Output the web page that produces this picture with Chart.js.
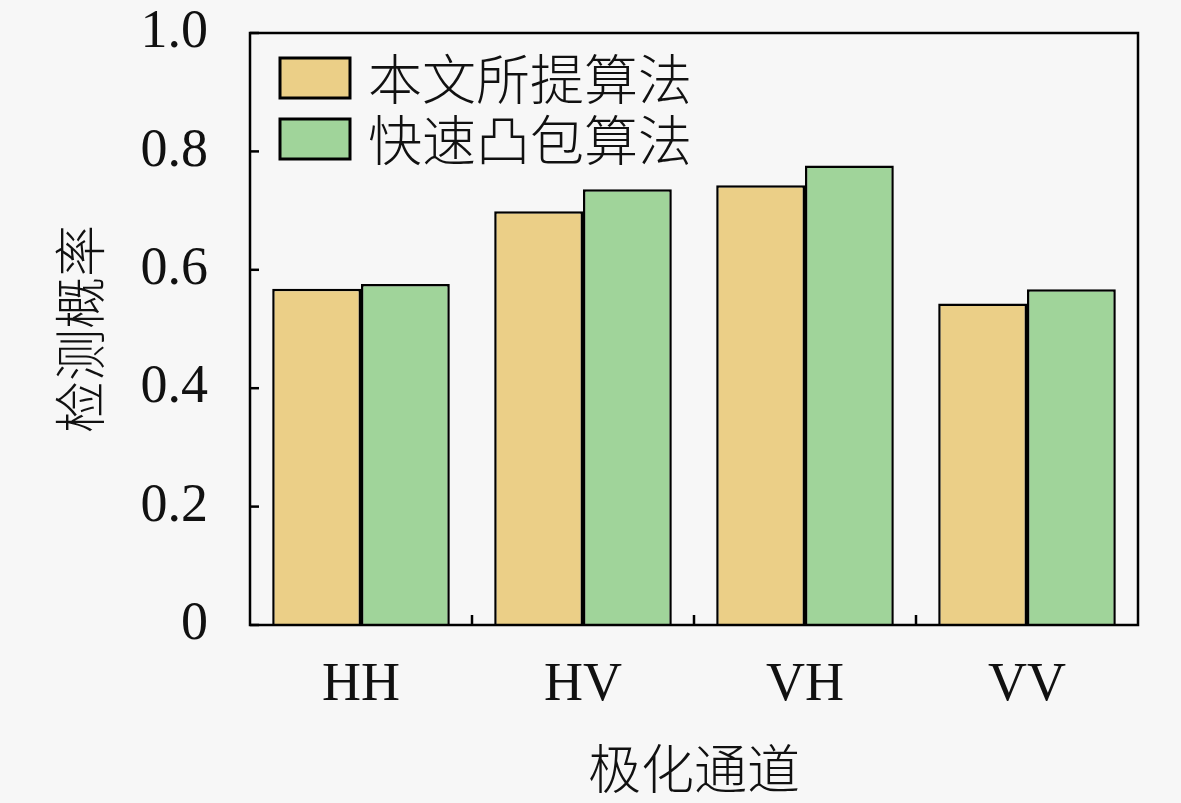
<!DOCTYPE html>
<html>
<head>
<meta charset="utf-8">
<script src="https://cdn.jsdelivr.net/npm/chart.js@4/dist/chart.umd.min.js"></script>
<style>
  html, body { margin: 0; padding: 0; background: #f7f7f7; }
  #wrap { width: 1181px; height: 803px; }
</style>
</head>
<body>
<div id="wrap"><canvas id="c" width="1181" height="803"></canvas></div>
<script>
const categories = ['HH', 'HV', 'VH', 'VV'];
const seriesNames = ['本文所提算法', '快速凸包算法'];
const proposedValues = [0.568, 0.699, 0.743, 0.543];
const convexHullValues = [0.576, 0.736, 0.776, 0.567];
const yTicks = [0, 0.2, 0.4, 0.6, 0.8, 1.0];
const xTitle = '极化通道';
const yTitle = '检测概率';

const latinFont = "'Liberation Serif', 'DejaVu Serif', serif";
const cjkFont = "'Noto Sans CJK SC', sans-serif";

const framePlugin = {
  id: 'frame',
  afterDatasetsDraw(chart) {
    const ctx = chart.ctx, a = chart.chartArea;
    const xs = chart.scales.x, ys = chart.scales.y;
    ctx.save();
    ctx.strokeStyle = '#000';
    ctx.lineWidth = 2.5;
    ctx.strokeRect(a.left, a.top, a.right - a.left, a.bottom - a.top);
    yTicks.forEach(v => {
      const y = ys.getPixelForValue(v);
      ctx.beginPath(); ctx.moveTo(a.left, y); ctx.lineTo(a.left + 9, y); ctx.stroke();
    });
    for (let i = 1; i < categories.length; i++) {
      const x = (xs.getPixelForValue(i - 1) + xs.getPixelForValue(i)) / 2;
      ctx.beginPath(); ctx.moveTo(x, a.bottom); ctx.lineTo(x, a.bottom - 10); ctx.stroke();
    }
    ctx.restore();
  },
  afterDraw(chart) {
    const ctx = chart.ctx, a = chart.chartArea;
    ctx.save();
    const bx = a.left + 30, by0 = a.top + 25, bw = 70, bh = 40, gap = 21;
    chart.data.datasets.forEach((ds, i) => {
      const by = by0 + i * (bh + gap);
      ctx.fillStyle = ds.backgroundColor;
      ctx.fillRect(bx, by, bw, bh);
      ctx.strokeStyle = '#000';
      ctx.lineWidth = 3;
      ctx.strokeRect(bx, by, bw, bh);
      ctx.fillStyle = '#111';
      ctx.font = '300 54px ' + cjkFont;
      ctx.textBaseline = 'middle';
      ctx.textAlign = 'left';
      ctx.fillText(ds.label, bx + bw + 18, by + bh / 2 + 1);
    });
    ctx.restore();
  }
};

const bgPlugin = {
  id: 'bg',
  beforeDraw(chart) {
    const ctx = chart.ctx;
    ctx.save();
    ctx.fillStyle = '#f7f7f7';
    ctx.fillRect(0, 0, chart.width, chart.height);
    ctx.restore();
  }
};

new Chart(document.getElementById('c'), {
  type: 'bar',
  data: {
    labels: categories,
    datasets: [
      { label: seriesNames[0], data: proposedValues, backgroundColor: '#ebcf87', borderColor: '#000', borderWidth: 2.5 },
      { label: seriesNames[1], data: convexHullValues, backgroundColor: '#a0d49a', borderColor: '#000', borderWidth: 2.5 }
    ]
  },
  options: {
    responsive: false,
    animation: false,
    devicePixelRatio: 1,
    layout: { padding: { left: 40, right: 43, top: 33, bottom: 0 } },
    datasets: { bar: { categoryPercentage: 0.8, barPercentage: 1.0 } },
    plugins: { legend: { display: false }, tooltip: { enabled: false } },
    scales: {
      x: {
        grid: { display: false, drawTicks: false },
        border: { display: false },
        ticks: { color: '#111', font: { family: latinFont, size: 54 }, padding: 28 },
        title: { display: true, text: xTitle, color: '#111', font: { family: cjkFont, size: 53, weight: 300 }, padding: { top: 0, bottom: 2 } },
        afterFit(s) { s.height = 178; s.paddingLeft = 0; s.paddingRight = 0; }
      },
      y: {
        min: 0, max: 1,
        afterBuildTicks(s) { s.ticks = yTicks.map(v => ({ value: v })); },
        grid: { display: false, drawTicks: false },
        border: { display: false },
        ticks: {
          color: '#111', font: { family: latinFont, size: 54 }, padding: 42,
          callback: v => (v === 0 ? '0' : Number(v).toFixed(1))
        },
        title: { display: true, text: yTitle, color: '#111', font: { family: cjkFont, size: 52, weight: 300 }, padding: { top: 9, bottom: 0 } },
        afterFit(s) { s.width = 210; s.paddingTop = 0; s.paddingBottom = 0; }
      }
    }
  },
  plugins: [bgPlugin, framePlugin]
});
</script>
</body>
</html>
